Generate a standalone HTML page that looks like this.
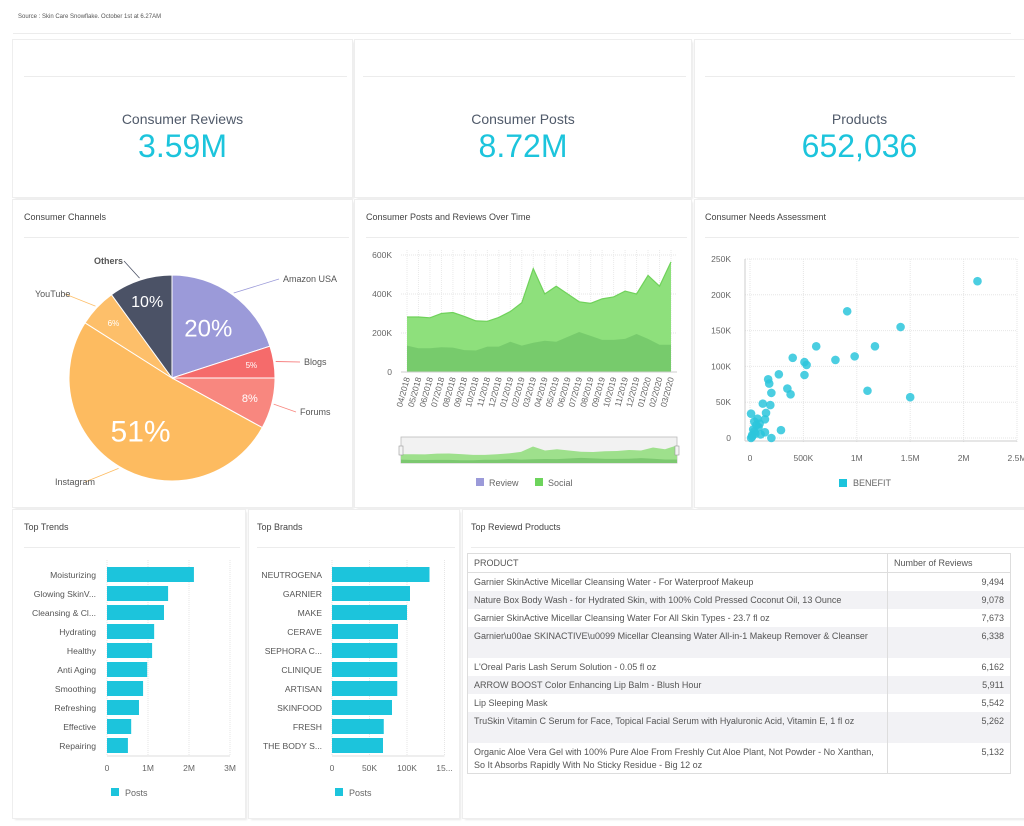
<!DOCTYPE html>
<html><head><meta charset="utf-8">
<style>
body{margin:0;width:1024px;height:826px;background:#fff;font-family:"Liberation Sans",sans-serif;position:relative;overflow:hidden;color:#555}
.p{position:absolute;background:#fff;box-shadow:0 0 0 1px #eee, 2px 2px 2px #e8e8e8}
.t{position:absolute;font-size:9px;color:#444}
.hl{position:absolute;height:1px;background:#ececec}
.kt{position:absolute;width:100%;text-align:center;font-size:14px;color:#505a6a}
.kv{position:absolute;width:100%;text-align:center;font-size:32px;color:#1cc4dc}
table{border-collapse:collapse;font-size:9px;color:#555}
td{border-right:1px solid #ddd;padding:0 6px;vertical-align:top;line-height:13px}
svg{position:absolute;left:0;top:0}
svg text{font-family:"Liberation Sans",sans-serif}
</style></head><body>
<div class="t" style="left:18px;top:14px;font-size:6px;color:#555">Source : Skin Care Snowflake. October 1st at 6.27AM</div>
<div class="hl" style="left:13px;top:33px;width:998px"></div>

<div class="p" style="left:13px;top:40px;width:339px;height:157px">
<div class="hl" style="left:11px;top:36px;width:323px"></div>
<div class="kt" style="top:71px">Consumer Reviews</div><div class="kv" style="top:88px">3.59M</div></div>
<div class="p" style="left:355px;top:40px;width:336px;height:157px">
<div class="hl" style="left:8px;top:36px;width:323px"></div>
<div class="kt" style="top:71px">Consumer Posts</div><div class="kv" style="top:88px">8.72M</div></div>
<div class="p" style="left:695px;top:40px;width:329px;height:157px">
<div class="hl" style="left:10px;top:36px;width:310px"></div>
<div class="kt" style="top:71px">Products</div><div class="kv" style="top:88px">652,036</div></div>

<div class="p" style="left:13px;top:200px;width:339px;height:307px"></div>
<div class="p" style="left:355px;top:200px;width:336px;height:307px"></div>
<div class="p" style="left:695px;top:200px;width:329px;height:307px"></div>
<div class="p" style="left:13px;top:510px;width:232px;height:308px"></div>
<div class="p" style="left:249px;top:510px;width:210px;height:308px"></div>
<div class="p" style="left:463px;top:510px;width:561px;height:308px"></div>

<div class="t" style="left:24px;top:212px">Consumer Channels</div>
<div class="hl" style="left:24px;top:237px;width:325px"></div>
<div class="t" style="left:366px;top:212px">Consumer Posts and Reviews Over Time</div>
<div class="hl" style="left:366px;top:237px;width:321px"></div>
<div class="t" style="left:705px;top:212px">Consumer Needs Assessment</div>
<div class="hl" style="left:705px;top:237px;width:314px"></div>
<div class="t" style="left:24px;top:522px">Top Trends</div>
<div class="hl" style="left:24px;top:547px;width:216px"></div>
<div class="t" style="left:257px;top:522px">Top Brands</div>
<div class="hl" style="left:257px;top:547px;width:198px"></div>
<div class="t" style="left:471px;top:522px">Top Reviewd Products</div>
<div class="hl" style="left:471px;top:547px;width:553px"></div>

<table style="position:absolute;left:467px;top:553px;width:544px;border:1px solid #ddd">
<tr style="height:19px;border-bottom:1px solid #ddd"><td style="width:407px;padding-top:3px">PRODUCT</td><td style="padding-top:3px">Number of Reviews</td></tr>
<tr style="height:18px"><td style="padding-top:3px">Garnier SkinActive Micellar Cleansing Water - For Waterproof Makeup</td><td style="text-align:right;padding-top:3px">9,494</td></tr>
<tr style="height:18px;background:#f2f2f5"><td style="padding-top:3px">Nature Box Body Wash - for Hydrated Skin, with 100% Cold Pressed Coconut Oil, 13 Ounce</td><td style="text-align:right;padding-top:3px">9,078</td></tr>
<tr style="height:18px"><td style="padding-top:3px">Garnier SkinActive Micellar Cleansing Water For All Skin Types - 23.7 fl oz</td><td style="text-align:right;padding-top:3px">7,673</td></tr>
<tr style="height:31px;background:#f2f2f5"><td style="padding-top:3px">Garnier\u00ae SKINACTIVE\u0099 Micellar Cleansing Water All-in-1 Makeup Remover &amp; Cleanser</td><td style="text-align:right;padding-top:3px">6,338</td></tr>
<tr style="height:18px"><td style="padding-top:3px">L'Oreal Paris Lash Serum Solution - 0.05 fl oz</td><td style="text-align:right;padding-top:3px">6,162</td></tr>
<tr style="height:18px;background:#f2f2f5"><td style="padding-top:3px">ARROW BOOST Color Enhancing Lip Balm - Blush Hour</td><td style="text-align:right;padding-top:3px">5,911</td></tr>
<tr style="height:18px"><td style="padding-top:3px">Lip Sleeping Mask</td><td style="text-align:right;padding-top:3px">5,542</td></tr>
<tr style="height:31px;background:#f2f2f5"><td style="padding-top:3px">TruSkin Vitamin C Serum for Face, Topical Facial Serum with Hyaluronic Acid, Vitamin E, 1 fl oz</td><td style="text-align:right;padding-top:3px">5,262</td></tr>
<tr style="height:31px"><td style="padding-top:3px">Organic Aloe Vera Gel with 100% Pure Aloe From Freshly Cut Aloe Plant, Not Powder - No Xanthan, So It Absorbs Rapidly With No Sticky Residue - Big 12 oz</td><td style="text-align:right;padding-top:3px">5,132</td></tr>
</table>

<svg id="s" width="1024" height="826"></svg>
<script>
// ---------- data ----------
const pieLabels=["Amazon USA","Blogs","Forums","Instagram","YouTube","Others"];
const pieValues=[20,5,8,51,6,10];
const pieColors=["#9b9ad9","#f56b6b","#f8877f","#fdbb60","#fdbf6a","#4b5266"];
const months=["04/2018","05/2018","06/2018","07/2018","08/2018","09/2018","10/2018","11/2018","12/2018","01/2019","02/2019","03/2019","04/2019","05/2019","06/2019","07/2019","08/2019","09/2019","10/2019","11/2019","12/2019","01/2020","02/2020","03/2020"];
const socialVals=[282,282,278,300,305,285,262,260,280,310,355,530,400,440,400,360,352,375,385,415,400,495,440,565];
const reviewVals=[135,122,122,127,125,112,110,130,130,155,135,150,160,155,180,205,185,165,165,170,195,170,140,140];
const areaTicks=[0,200,400,600];
const scatterX=[2.13,0.91,1.41,0.62,1.17,0.40,0.80,0.98,0.51,0.53,0.51,0.27,0.17,0.18,0.20,0.35,0.38,1.10,1.50,0.12,0.19,0.01,0.15,0.14,0.07,0.04,0.29,0.14,0.20,0.02,0.05,0.03,0.08,0.10,0.06,0.01,0.04,0.09,0.02];
const scatterY=[219,177,155,128,128,112,109,114,106,102,88,89,82,76,63,69,61,66,57,48,46,34,35,26,27,23,11,8,0,2,6,12,15,5,18,0,9,20,4];
const scXTicks=["0","500K","1M","1.5M","2M","2.5M"];
const scYTicks=["0","50K","100K","150K","200K","250K"];
const trendLabels=["Moisturizing","Glowing SkinV...","Cleansing & Cl...","Hydrating","Healthy","Anti Aging","Smoothing","Refreshing","Effective","Repairing"];
const trendVals=[2.12,1.49,1.39,1.15,1.1,0.98,0.88,0.78,0.59,0.51];
const trendTicks=["0","1M","2M","3M"];
const brandLabels=["NEUTROGENA","GARNIER","MAKE","CERAVE","SEPHORA C...","CLINIQUE","ARTISAN","SKINFOOD","FRESH","THE BODY S..."];
const brandVals=[130,104,100,88,87,87,87,80,69,68];
const brandTicks=["0","50K","100K","15..."];

const s=document.getElementById('s');const NS="http://www.w3.org/2000/svg";
function el(t,a,txt){const e=document.createElementNS(NS,t);for(const k in a)e.setAttribute(k,a[k]);if(txt!=null)e.textContent=txt;s.appendChild(e);return e;}

// ---------- pie ----------
const cx=172,cy=378,R=103;let tot=pieValues.reduce((a,b)=>a+b,0),ang=0;
const labelPos=[[283,282,"start"],[304,365,"start"],[300,415,"start"],[55,485,"start"],[35,297,"start"],[94,264,"start"]];
pieValues.forEach((v,i)=>{
 const a0=ang/tot*2*Math.PI,a1=(ang+v)/tot*2*Math.PI;ang+=v;
 const p=(a)=>[cx+R*Math.sin(a),cy-R*Math.cos(a)];
 const [x0,y0]=p(a0),[x1,y1]=p(a1);
 const sl=el('path',{d:`M${cx},${cy}L${x0},${y0}A${R},${R} 0 ${a1-a0>Math.PI?1:0} 1 ${x1},${y1}Z`,fill:pieColors[i],stroke:"#fff","stroke-width":1});
 
 
 const am=(a0+a1)/2, rr=v>15?0.6:0.78;
 const fs=v>40?30:v>15?24:v>9?16:v>6?11:8;
 const pt=el('text',{x:cx+R*rr*Math.sin(am),y:cy-R*rr*Math.cos(am)+fs*0.35,"text-anchor":"middle","font-size":fs,fill:"#fff"},v+"%");
 
 
 const lp=labelPos[i];
 const ex=cx+(R+2)*Math.sin(am),ey=cy-(R+2)*Math.cos(am);
 el('line',{x1:ex,y1:ey,x2:lp[0]+(lp[0]>cx?-4:30),y2:lp[1]-3,stroke:pieColors[i],"stroke-width":0.8});
 const lt=el('text',{x:lp[0],y:lp[1],"font-size":9,fill:"#555","font-weight":i==5?"bold":"normal"},pieLabels[i]);
 
 
});

// ---------- area ----------
const ax0=407,ax1=671,ay0=372,ayTop=255;
const AX=i=>ax0+(ax1-ax0)*i/(months.length-1), AY=v=>ay0-(ay0-ayTop)*v/600;
areaTicks.forEach(t=>{el('line',{x1:ax0-6,x2:ax1+6,y1:AY(t),y2:AY(t),stroke:"#e4e4e4","stroke-dasharray":"1,1"});
 const tt=el('text',{x:392,y:AY(t)+3,"text-anchor":"end","font-size":8.5,fill:"#666"},t?t+"K":"0");
 
 });
months.forEach((m,i)=>{el('line',{x1:AX(i),x2:AX(i),y1:ayTop-5,y2:ay0,stroke:"#eaeaea","stroke-dasharray":"1,1"});
 const mt=el('text',{x:0,y:0,"font-size":8.5,fill:"#666","text-anchor":"end",transform:`translate(${AX(i)+3},${ay0+6}) rotate(-75)`},m);
 
 });
function areaPath(vals,X,Y,base){let d=`M${X(0)},${base}`;vals.forEach((v,i)=>d+=`L${X(i)},${Y(v)}`);return d+`L${X(vals.length-1)},${base}Z`;}
const a1=el('path',{d:areaPath(socialVals,AX,AY,ay0),fill:"#8ee07c"});


el('polyline',{points:socialVals.map((v,i)=>AX(i)+","+AY(v)).join(" "),fill:"none",stroke:"#6fd25a","stroke-width":1.2});
const a2=el('path',{d:areaPath(reviewVals,AX,AY,ay0),fill:"#74c96a",opacity:0.9});


el('line',{x1:ax0-6,x2:ax1+6,y1:ay0,y2:ay0,stroke:"#ccc"});
// navigator
const nx0=401,nx1=677,ny0=463,nyT=438;
const NX=i=>nx0+(nx1-nx0)*i/(months.length-1), NY=v=>ny0-(ny0-nyT)*v/600;
const nb=el('rect',{x:nx0,y:nyT-1,width:nx1-nx0,height:ny0-nyT+1,fill:"#f2f2f2",stroke:"#bbb","stroke-width":0.8});


el('path',{d:areaPath(socialVals,NX,v=>NY(v*0.75),ny0),fill:"#9ee08c"});
el('path',{d:areaPath(reviewVals,NX,v=>NY(v*0.6),ny0),fill:"#7cc870"});
[nx0,nx1].forEach(x=>{const h=el('rect',{x:x-2,y:446,width:4,height:9,fill:"#f4f4f4",stroke:"#999","stroke-width":0.6});
 
 });
el('rect',{x:476,y:478,width:8,height:8,fill:"#9b9ad9"});
const l1=el('text',{x:489,y:486,"font-size":9,fill:"#666"},"Review");
el('rect',{x:535,y:478,width:8,height:8,fill:"#6dd45c"});
const l2=el('text',{x:548,y:486,"font-size":9,fill:"#666"},"Social");

// ---------- scatter ----------
const sx0=750,sx1=1017,sy0=438,syT=259;
const SX=v=>sx0+(sx1-sx0)*v/2.5, SY=v=>sy0-(sy0-syT)*v/250;
scXTicks.forEach((t,i)=>{const x=sx0+(sx1-sx0)*i/5;el('line',{x1:x,x2:x,y1:syT,y2:sy0+4,stroke:"#e6e6e6","stroke-dasharray":"1,1"});
 const tt=el('text',{x:x,y:sy0+23,"text-anchor":"middle","font-size":8.5,fill:"#666"},t);});
scYTicks.forEach((t,i)=>{const y=sy0-(sy0-syT)*i/5;el('line',{x1:sx0-5,x2:sx1,y1:y,y2:y,stroke:"#e6e6e6","stroke-dasharray":"1,1"});
 const tt=el('text',{x:731,y:y+3,"text-anchor":"end","font-size":8.5,fill:"#666"},t);});
el('line',{x1:sx0-5,x2:sx0-5,y1:syT,y2:sy0+3,stroke:"#ccc"});
el('line',{x1:sx0-5,x2:sx1,y1:sy0+3,y2:sy0+3,stroke:"#ccc"});
scatterX.forEach((x,i)=>{const c=el('circle',{cx:SX(x),cy:SY(scatterY[i]),r:4.3,fill:"#2cc6dc",opacity:0.85});
 
 });
el('rect',{x:839,y:479,width:8,height:8,fill:"#1cc4dc"});
const l3=el('text',{x:853,y:486,"font-size":9,fill:"#666"},"BENEFIT");

// ---------- bar charts ----------
function bars(labels,vals,ticks,x0,pxPer,tickStep,labelX,name,legX){
 const yTop=566,step=19,bh=15,gx1=x0+pxPer*tickStep*(ticks.length-1);
 ticks.forEach((t,i)=>{const x=x0+pxPer*tickStep*i;el('line',{x1:x,x2:x,y1:560,y2:756,stroke:"#e6e6e6","stroke-dasharray":"1,1"});
  const tt=el('text',{x:x,y:771,"text-anchor":"middle","font-size":8.5,fill:"#666"},t);});
 el('line',{x1:x0,x2:gx1,y1:756,y2:756,stroke:"#ddd"});
 labels.forEach((l,i)=>{const y=yTop+i*step;
  const b=el('rect',{x:x0,y:y+1,width:pxPer*vals[i],height:bh,fill:"#1cc4dc"});
  
  
  const tt=el('text',{x:labelX,y:y+12,"text-anchor":"end","font-size":8.6,fill:"#555"},l);
  
  });
 el('rect',{x:legX,y:788,width:8,height:8,fill:"#1cc4dc"});
 const lg=el('text',{x:legX+14,y:796,"font-size":9,fill:"#666"},"Posts");
}
bars(trendLabels,trendVals,trendTicks,107,41,1,96,'trend',111);
bars(brandLabels,brandVals,brandTicks,332,0.75,50,322,'brand',335);
</script>
</body></html>
